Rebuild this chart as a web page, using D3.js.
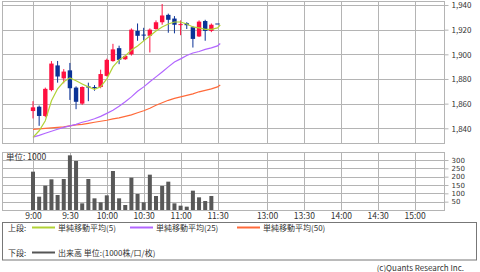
<!DOCTYPE html>
<html>
<head>
<meta charset="utf-8">
<script src="https://cdn.jsdelivr.net/npm/d3@7"></script>
<style>
body { margin: 0; background: #fff; }
svg { display: block; }
text { font-family: "Noto Sans CJK JP", "DejaVu Sans", sans-serif; fill: #333; }
</style>
</head>
<body>
<svg id="chart" width="480" height="272"></svg>
<script>
// 5-minute candles, morning session
var times = ["9:00","9:05","9:10","9:15","9:20","9:25","9:30","9:35","9:40","9:45","9:50","9:55",
             "10:00","10:05","10:10","10:15","10:20","10:25","10:30","10:35","10:40","10:45","10:50","10:55",
             "11:00","11:05","11:10","11:15","11:20","11:25","11:30"];
var opens  = [1854,1857.5,1850,1871,1891,1880.5,1887,1873,1860,1874,1873.5,1873.5,
              1882.5,1894.5,1905,1896,1900,1919,1916,1915,1920.5,1926,1932,1929,
              1924,1925.2,1922,1914.5,1927,1919,1925];
var highs  = [1862,1858.5,1873,1894.5,1894.6,1888,1893,1874,1874,1877,1875,1887.5,
              1896.5,1908.5,1907,1899.5,1921,1925,1921.5,1921,1927.5,1940.8,1933,1931,
              1927.5,1926,1923,1927.5,1928,1925,1925];
var lows   = [1848,1842,1849,1870,1877,1876.5,1863,1855.5,1859,1862,1870.5,1872.5,
              1882,1894,1892,1895.5,1899,1911,1911,1901.5,1920,1924,1917.5,1917,
              1915.5,1920.5,1905.5,1914,1911,1918,1925];
var closes = [1857,1850,1872,1892.5,1882,1886,1872.5,1861.5,1873.5,1873,1872.5,1884,
              1895.5,1904,1895.5,1898.7,1920,1915,1915.5,1920,1926,1931.5,1928,1924,
              1924.5,1923.6,1912.5,1926.5,1919,1924,1925];
var volumes = [230,80,146,184,90,186,328,294,40,186,70,46,
               88,234,70,30,194,96,46,212,84,144,170,40,
               26,20,116,76,54,84,0];

// moving averages (one more point than the candles)
var maTimes = times.concat(["11:35"]);
var ma5  = [1832.7,1838.0,1846.1,1862.3,1872.0,1877.7,1880.9,1878.5,1876.0,1873.6,1871.6,1873.6,
            1880.1,1889.8,1895.5,1898.7,1903.6,1906.8,1910.9,1914.9,1918.9,1922.2,1924.6,1926.2,
            1926.2,1924.6,1922.2,1921.4,1920.2,1920.2,1921.4,1923.8];
var ma25 = [1832.9,1834.3,1836.0,1837.6,1839.2,1840.8,1842.0,1843.2,1844.9,1846.1,1847.7,1849.7,
            1852.1,1854.6,1857.8,1861.5,1865.5,1870.0,1873.6,1877.7,1881.7,1885.7,1889.8,1893.8,
            1896.3,1899.1,1901.1,1902.3,1904.0,1905.2,1906.8,1908.8];
var ma50 = [1839.2,1839.6,1840.0,1840.4,1840.8,1841.2,1842.0,1842.8,1843.2,1844.0,1844.9,1845.7,
            1846.5,1847.7,1848.5,1849.7,1850.9,1852.6,1854.2,1856.2,1858.7,1860.7,1862.7,1864.3,
            1865.5,1866.7,1867.9,1869.6,1870.8,1872.0,1873.6,1875.2];

var timeTicks = ["9:00","9:30","10:00","10:30","11:00","11:30","13:00","13:30","14:00","14:30","15:00"];
var priceTicks = [1840,1860,1880,1900,1920,1940];
var volumeTicks = [50,100,150,200,250,300];

var redColor = "#ff1040";
var blueColor = "#0a3296";
var gridColor = "#b4b4b4";

function toMin(t) {
  var p = t.split(":");
  return +p[0] * 60 + +p[1];
}

var svg = d3.select("#chart");

// lunch break is compressed, so the time scale is piecewise
var x = d3.scaleLinear()
  .domain([540, 690, 780, 900])
  .range([33, 217.5, 267, 414.6]);
var yPrice = d3.scaleLinear().domain([1840, 1940]).range([128.3, 5]);
var yVol = d3.scaleLinear().domain([0, 300]).range([210, 160]);

var left = 2, right = 444;
var mainTop = 1, mainBottom = 143;
var volTop = 152, volBottom = 210;

function panel(top, bottom, yScale, ticks) {
  var g = svg.append("g");
  g.append("rect")
    .attr("x", left + 0.5).attr("y", top + 0.5)
    .attr("width", right - left).attr("height", bottom - top)
    .attr("fill", "#fff").attr("stroke", gridColor);
  g.selectAll(".vgrid")
    .data(timeTicks)
    .enter()
    .append("line")
    .attr("x1", function(d) { return Math.round(x(toMin(d))) + 0.5; })
    .attr("x2", function(d) { return Math.round(x(toMin(d))) + 0.5; })
    .attr("y1", top).attr("y2", bottom)
    .attr("stroke", gridColor);
  g.selectAll(".hgrid")
    .data(ticks)
    .enter()
    .append("line")
    .attr("x1", left).attr("x2", right)
    .attr("y1", function(d) { return Math.round(yScale(d)) + 0.5; })
    .attr("y2", function(d) { return Math.round(yScale(d)) + 0.5; })
    .attr("stroke", gridColor);
  return g;
}

panel(mainTop, mainBottom, yPrice, priceTicks);
panel(volTop, volBottom, yVol, volumeTicks);

// price axis
var priceAxis = svg.append("g")
  .attr("transform", "translate(" + (right + 0.5) + ",0)")
  .call(d3.axisRight(yPrice).tickValues(priceTicks).tickSize(4).tickPadding(3).tickFormat(d3.format(",")));
priceAxis.select(".domain").remove();
priceAxis.selectAll("line").attr("stroke", gridColor);
priceAxis.selectAll("text").style("font-size", "8px").attr("dy", "0.36em").attr("fill", "#333");

// volume axis, tightly packed ticks so a compact font
var volAxis = svg.append("g")
  .attr("transform", "translate(" + (right + 0.5) + ",0)")
  .call(d3.axisRight(yVol).tickValues(volumeTicks).tickSize(4).tickPadding(3));
volAxis.select(".domain").remove();
volAxis.selectAll("line").attr("stroke", gridColor);
volAxis.selectAll("text")
  .style("font-size", "7px")
  .style("font-family", "'DejaVu Sans', sans-serif")
  .attr("fill", "#333");

// time axis
var timeAxis = svg.append("g")
  .attr("transform", "translate(0," + volBottom + ")")
  .call(d3.axisBottom(x).tickValues(timeTicks.map(toMin)).tickSize(0).tickPadding(3)
    .tickFormat(function(d, i) { return timeTicks[i]; }));
timeAxis.select(".domain").remove();
timeAxis.selectAll("text").style("font-size", "8.5px").attr("fill", "#333");

svg.append("text")
  .attr("x", 6).attr("y", 160)
  .style("font-size", "8.5px")
  .text("単位: 1000");

// candles
var candles = times.map(function(t, i) {
  return { t: toMin(t), o: opens[i], h: highs[i], l: lows[i], c: closes[i], v: volumes[i] };
});
var candleW = 4.4;

var cg = svg.append("g");
cg.selectAll(".wick")
  .data(candles)
  .enter()
  .append("line")
  .attr("x1", function(d) { return x(d.t); })
  .attr("x2", function(d) { return x(d.t); })
  .attr("y1", function(d) { return yPrice(d.h); })
  .attr("y2", function(d) { return yPrice(d.l); })
  .attr("stroke", function(d) { return d.c > d.o ? redColor : blueColor; })
  .attr("stroke-width", 1);
cg.selectAll(".body")
  .data(candles)
  .enter()
  .append("rect")
  .attr("x", function(d) { return x(d.t) - candleW / 2; })
  .attr("y", function(d) { return yPrice(Math.max(d.o, d.c)); })
  .attr("width", candleW)
  .attr("height", function(d) { return Math.max(1, Math.abs(yPrice(d.o) - yPrice(d.c))); })
  .attr("fill", function(d) { return d.c > d.o ? redColor : blueColor; });

// moving averages
function maLine(values, color) {
  var line = d3.line()
    .x(function(d, i) { return x(toMin(maTimes[i])); })
    .y(function(d) { return yPrice(d); });
  svg.append("path")
    .datum(values)
    .attr("d", line)
    .attr("fill", "none")
    .attr("stroke", color)
    .attr("stroke-width", 1.2);
}
maLine(ma50, "#ff6a3a");
maLine(ma25, "#b266ff");
maLine(ma5, "#b2d236");

// volume bars
svg.append("g")
  .selectAll("rect")
  .data(candles)
  .enter()
  .append("rect")
  .attr("x", function(d) { return x(d.t) - 2; })
  .attr("y", function(d) { return yVol(d.v); })
  .attr("width", 4)
  .attr("height", function(d) { return yVol(0) - yVol(d.v); })
  .attr("fill", "#585858");

// legend
var legend = svg.append("g");
legend.append("rect")
  .attr("x", 2.5).attr("y", 222.5)
  .attr("width", 474).attr("height", 37.5)
  .attr("fill", "#fff").attr("stroke", "#777");

var legendItems = [
  { x: 32, y: 227.5, color: "#b2d236", label: "単純移動平均(5)" },
  { x: 130, y: 227.5, color: "#b266ff", label: "単純移動平均(25)" },
  { x: 237, y: 227.5, color: "#ff6a3a", label: "単純移動平均(50)" },
  { x: 32, y: 252.5, color: "#555", label: "出来高 単位:(1000株/口/枚)" }
];
legend.append("text").attr("x", 8).attr("y", 230.5).style("font-size", "8px").text("上段:");
legend.append("text").attr("x", 8).attr("y", 255.5).style("font-size", "8px").text("下段:");
legend.selectAll(".item-line")
  .data(legendItems)
  .enter()
  .append("line")
  .attr("x1", function(d) { return d.x; })
  .attr("x2", function(d) { return d.x + 23; })
  .attr("y1", function(d) { return d.y; })
  .attr("y2", function(d) { return d.y; })
  .attr("stroke", function(d) { return d.color; })
  .attr("stroke-width", 2);
legend.selectAll(".item-text")
  .data(legendItems)
  .enter()
  .append("text")
  .attr("x", function(d) { return d.x + 26; })
  .attr("y", function(d) { return d.y + 3; })
  .style("font-size", "8px")
  .text(function(d) { return d.label; });

svg.append("text")
  .attr("x", 464).attr("y", 271)
  .attr("text-anchor", "end")
  .style("font-size", "8px")
  .attr("fill", "#555")
  .text("(c)Quants Research Inc.");
</script>
</body>
</html>
